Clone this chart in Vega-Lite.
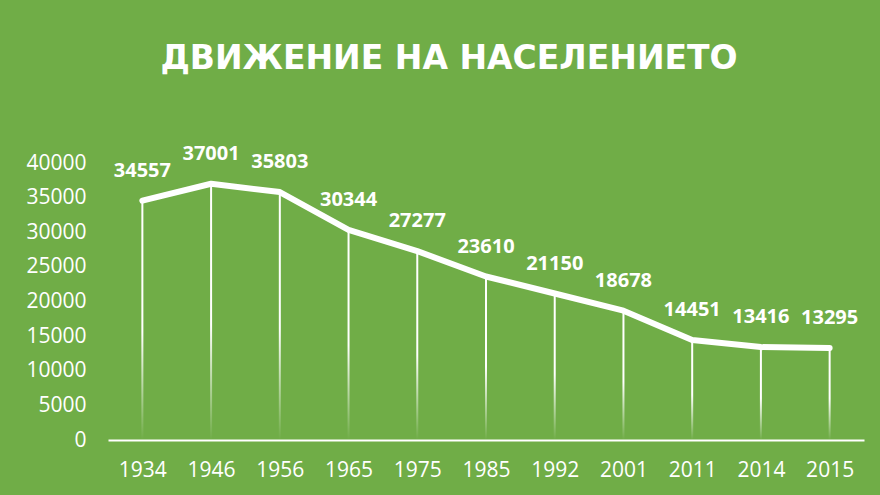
{
  "$schema": "https://vega.github.io/schema/vega-lite/v6.json",
  "autosize": {"type": "none"},
  "width": 756,
  "height": 277,
  "padding": {"left": 108, "top": 163, "right": 16, "bottom": 55},
  "background": "#70AD47",
  "title": {
    "text": "ДВИЖЕНИЕ НА НАСЕЛЕНИЕТО",
    "font": "DejaVu Sans",
    "fontSize": 33,
    "fontWeight": "bold",
    "color": "white",
    "anchor": "middle",
    "dx": -37,
    "offset": 68,
    "limit": 0
  },
  "config": {
    "view": {"stroke": null},
    "text": {"font": "Open Sans"}
  },
  "data": {
    "values": [
      {"year": "1934", "pop": 34557},
      {"year": "1946", "pop": 37001},
      {"year": "1956", "pop": 35803},
      {"year": "1965", "pop": 30344},
      {"year": "1975", "pop": 27277},
      {"year": "1985", "pop": 23610},
      {"year": "1992", "pop": 21150},
      {"year": "2001", "pop": 18678},
      {"year": "2011", "pop": 14451},
      {"year": "2014", "pop": 13416},
      {"year": "2015", "pop": 13295}
    ]
  },
  "encoding": {
    "x": {
      "field": "year",
      "type": "ordinal",
      "scale": {"type": "point", "padding": 0.5},
      "axis": {
        "title": null,
        "labelAngle": 0,
        "labelColor": "white",
        "labelFont": "Open Sans",
        "labelFontSize": 21,
        "labelPadding": 19,
        "ticks": false,
        "domainColor": "white",
        "domainWidth": 2
      }
    },
    "y": {
      "field": "pop",
      "type": "quantitative",
      "scale": {"domain": [0, 40000], "nice": false},
      "axis": {
        "title": null,
        "values": [0, 5000, 10000, 15000, 20000, 25000, 30000, 35000, 40000],
        "format": "d",
        "grid": false,
        "domain": false,
        "ticks": false,
        "labelColor": "white",
        "labelFont": "Open Sans",
        "labelFontSize": 21,
        "labelPadding": 22
      }
    }
  },
  "layer": [
    {
      "mark": {
        "type": "bar",
        "width": 2,
        "fill": {
          "gradient": "linear",
          "x1": 0, "y1": 0, "x2": 0, "y2": 1,
          "stops": [
            {"offset": 0, "color": "#ffffff"},
            {"offset": 0.55, "color": "#ffffff"},
            {"offset": 1, "color": "rgba(255,255,255,0)"}
          ]
        }
      }
    },
    {
      "mark": {"type": "line", "color": "white", "strokeWidth": 6, "strokeCap": "round", "strokeJoin": "round"}
    },
    {
      "mark": {"type": "text", "color": "white", "fontSize": 20, "fontWeight": "bold", "baseline": "alphabetic", "dy": -24},
      "encoding": {"text": {"field": "pop", "type": "quantitative", "format": "d"}}
    }
  ]
}
